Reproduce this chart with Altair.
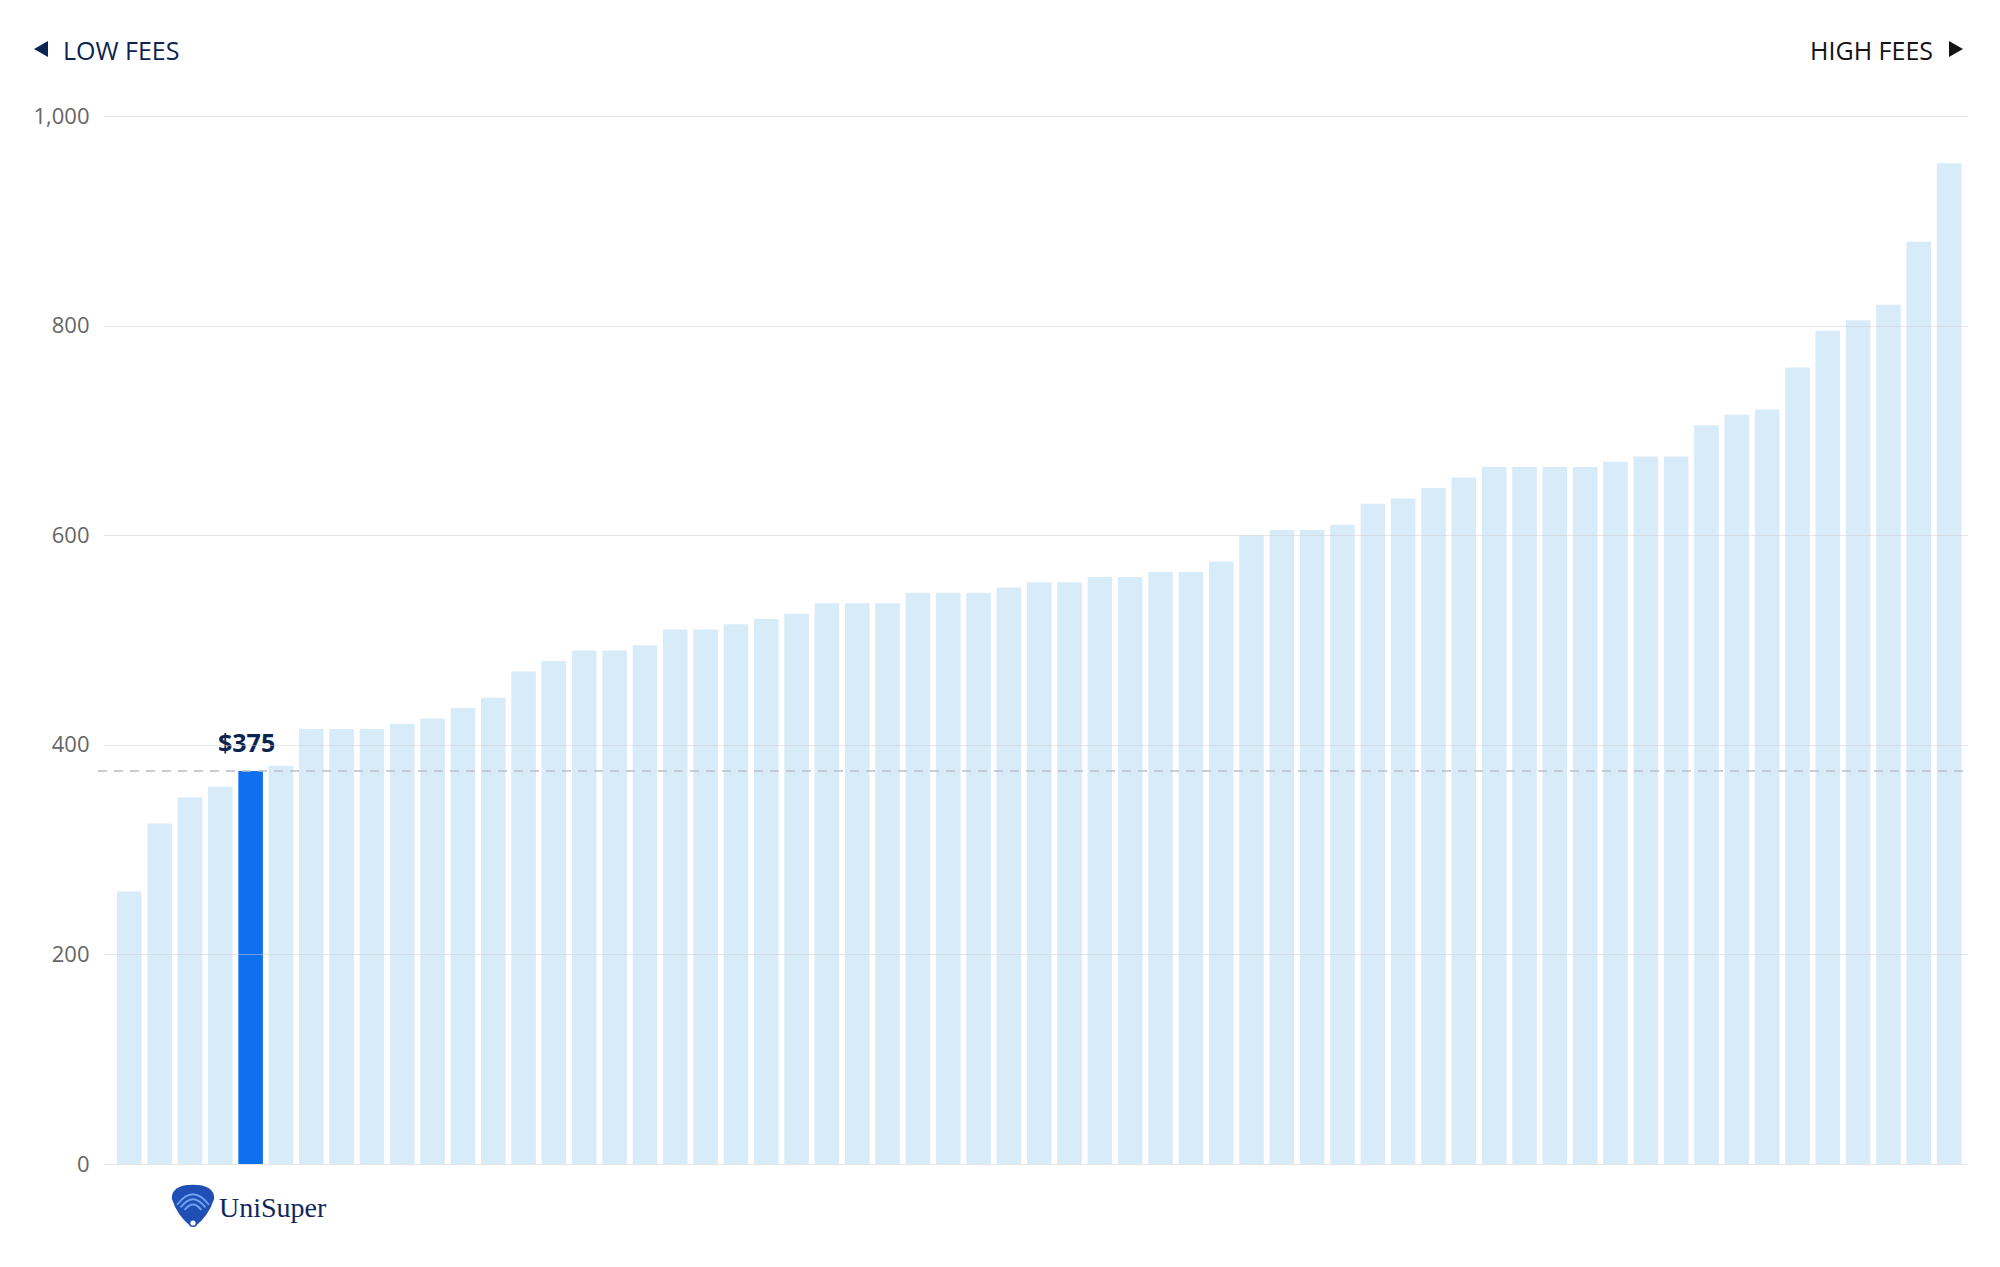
import altair as alt
import pandas as pd

# ---- data ----
fees = [260, 325, 350, 360, 375, 380, 415, 415, 415, 420,
        425, 435, 445, 470, 480, 490, 490, 495, 510, 510,
        515, 520, 525, 535, 535, 535, 545, 545, 545, 550,
        555, 555, 560, 560, 565, 565, 575, 600, 605, 605,
        610, 630, 635, 645, 655, 665, 665, 665, 665, 670,
        675, 675, 705, 715, 720, 760, 795, 805, 820, 880, 955]
highlight_rank = 5
highlight_value = 375
highlight_label = "$375"
y_ticks = [0, 200, 400, 600, 800, 1000]
left_label = "LOW FEES"
right_label = "HIGH FEES"
brand = "UniSuper"

W, H = 1865, 1048
FONT = "Open Sans"
NAVY = "#0c2450"

df = pd.DataFrame({"rank": list(range(1, len(fees) + 1)), "fee": fees})
df["hl"] = df["rank"] == highlight_rank

x_enc = alt.X("rank:O", axis=None,
              scale=alt.Scale(paddingInner=0.19, paddingOuter=0.34, align=0.68))
y_scale = alt.Scale(domain=[0, 1000], nice=False)

bars = alt.Chart(df).mark_bar().encode(
    x=x_enc,
    y=alt.Y("fee:Q", scale=y_scale,
            axis=alt.Axis(values=y_ticks, format=",.0f", title=None, domain=False, ticks=False,
                          labelFont=FONT, labelFontSize=22, labelColor="#666666",
                          labelPadding=14, gridColor="#d0d0d0", gridOpacity=0.5,
                          gridWidth=1, zindex=1)),
    color=alt.condition("datum.hl", alt.value("#0e70ef"), alt.value("#d8ebf8")),
)

rule_df = pd.DataFrame({"v": [highlight_value]})
rule = alt.Chart(rule_df).mark_rule(color="#b9bfc6", strokeDash=[9, 7], strokeWidth=1.5).encode(
    y=alt.Y("v:Q", scale=y_scale),
    x=alt.value(-5), x2=alt.value(W),
)

lab = alt.Chart(df[df["hl"]].assign(t=highlight_label)).mark_text(
    font=FONT, fontSize=25, fontWeight="bold", color=NAVY,
    baseline="alphabetic", dy=-19, dx=-4,
).encode(x=x_enc, y=alt.Y("fee:Q", scale=y_scale), text="t:N")

one = pd.DataFrame({"a": [0]})

low_txt = alt.Chart(one).mark_text(font=FONT, fontSize=25, color=NAVY, align="left",
                                   baseline="alphabetic").encode(
    x=alt.value(-40), y=alt.value(-56), text=alt.value(left_label))
high_txt = alt.Chart(one).mark_text(font=FONT, fontSize=25, color="#141414", align="right",
                                    baseline="alphabetic").encode(
    x=alt.value(1830), y=alt.value(-56), text=alt.value(right_label))

tri_l = alt.Chart(one).mark_point(shape="M-1,0 L0.75,-1 L0.75,1 Z", filled=True, opacity=1,
                                  color=NAVY, size=256, strokeWidth=0).encode(
    x=alt.value(-61), y=alt.value(-67))
tri_r = alt.Chart(one).mark_point(shape="M1,0 L-0.75,-1 L-0.75,1 Z", filled=True, opacity=1,
                                  color="#141414", size=256, strokeWidth=0).encode(
    x=alt.value(1852), y=alt.value(-67))

# UniSuper logo (shell icon + wordmark)
shell = alt.Chart(one).mark_point(
    shape="M-1,-0.35 Q-1,-1 0,-1 Q1,-1 1,-0.35 Q0.75,0.45 0.12,0.95 L-0.12,0.95 Q-0.75,0.45 -1,-0.35 Z",
    filled=True, opacity=1, color="#1f4fb5", size=1800, strokeWidth=0).encode(
    x=alt.value(90), y=alt.value(1090))
arcs = []
for k, s in enumerate([1250, 750, 340]):
    arcs.append(alt.Chart(one).mark_point(
        shape="M-0.9,0.1 Q0,-1.1 0.9,0.1", filled=False, opacity=1,
        color="#6ea3f0", size=s, strokeWidth=2).encode(
        x=alt.value(90), y=alt.value(1087 + k * 3)))
dot = alt.Chart(one).mark_point(shape="circle", filled=True, opacity=1, color="white",
                                size=45, stroke="#1f4fb5", strokeWidth=1.5).encode(
    x=alt.value(90), y=alt.value(1107))
brand_txt = alt.Chart(one).mark_text(font="Liberation Serif", fontSize=28, color="#10275e",
                                     align="left", baseline="alphabetic").encode(
    x=alt.value(116), y=alt.value(1101), text=alt.value(brand))

chart = alt.layer(bars, rule, lab, low_txt, high_txt, tri_l, tri_r,
                  shell, *arcs, dot, brand_txt).properties(
    width=W, height=H,
    padding={"left": 95, "top": 108, "right": 16, "bottom": 85},
    autosize=alt.AutoSizeParams(type="none"),
    view=alt.ViewBackground(stroke="transparent", strokeWidth=0),
).configure_view(stroke="transparent", strokeWidth=0).configure(background="white")

chart.save("out.html", embed_options={"renderer": "svg", "actions": False})
